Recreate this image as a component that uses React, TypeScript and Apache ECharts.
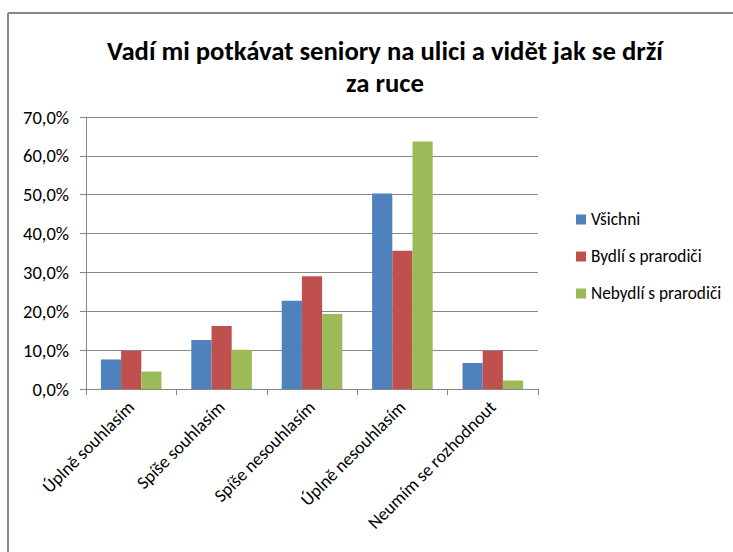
import React, { useEffect, useRef } from "react";
import * as echarts from "echarts";

const categories = ["Úplně souhlasím", "Spíše souhlasím", "Spíše nesouhlasím", "Úplně nesouhlasím", "Neumím se rozhodnout"];
const seriesNames = ["Všichni", "Bydlí s prarodiči", "Nebydlí s prarodiči"];
const vsichni = [7.6, 12.6, 22.7, 50.3, 6.7];
const bydli = [9.8, 16.2, 29.0, 35.6, 9.8];
const nebydli = [4.5, 10.1, 19.3, 63.7, 2.2];
const colors = ["#4F81BD", "#C0504D", "#9BBB59"];
const titleText = "Vadí mi potkávat seniory na ulici a vidět jak se drží\nza ruce";

export default function App() {
  const ref = useRef<HTMLDivElement>(null);
  useEffect(() => {
    const chart = echarts.init(ref.current!, null, { renderer: "svg" });
    const font = "Carlito, 'Open Sans', 'Noto Sans', sans-serif";
    const data = [vsichni, bydli, nebydli];
    chart.setOption({
      animation: false,
      backgroundColor: "#fff",
      title: {
        text: titleText,
        left: 380,
        textAlign: "center",
        top: 30,
        textStyle: { fontFamily: font, fontSize: 26.7, fontWeight: "bold", color: "#000", lineHeight: 32 },
      },
      graphic: [
        { type: "line", shape: { x1: 8, y1: 13, x2: 740, y2: 13 }, style: { stroke: "#888", lineWidth: 2 }, silent: true },
        { type: "line", shape: { x1: 8, y1: 13, x2: 8, y2: 560 }, style: { stroke: "#888", lineWidth: 2 }, silent: true },
      ],
      legend: {
        orient: "vertical",
        left: 571,
        top: 206,
        itemGap: 20,
        itemWidth: 10,
        itemHeight: 10,
        icon: "rect",
        textStyle: { fontFamily: font, fontSize: 17.3, color: "#000" },
        data: seriesNames,
      },
      grid: { left: 86, right: 195, top: 117, bottom: 163, containLabel: false },
      xAxis: {
        type: "category",
        data: categories,
        axisLine: { lineStyle: { color: "#868686" } },
        axisTick: { show: true, alignWithLabel: false, length: 6, lineStyle: { color: "#868686" } },
        axisLabel: { rotate: 45, interval: 0, fontFamily: font, fontSize: 18, color: "#000", margin: 15 },
      },
      yAxis: {
        type: "value",
        min: 0,
        max: 70,
        interval: 10,
        axisLine: { show: true, lineStyle: { color: "#868686" } },
        axisTick: { show: true, length: 6, lineStyle: { color: "#868686" } },
        splitLine: { lineStyle: { color: "#888" } },
        axisLabel: {
          fontFamily: font,
          fontSize: 18.5,
          color: "#000",
          margin: 17,
          formatter: (v: number) => v.toFixed(1).replace(".", ",") + "%",
        },
      },
      series: seriesNames.map((name, i) => ({
        name,
        type: "bar",
        data: data[i],
        barGap: "0%",
        barCategoryGap: "33%",
        itemStyle: { color: colors[i] },
      })),
    });
    return () => chart.dispose();
  }, []);
  return <div ref={ref} style={{ position: "fixed", left: 0, top: 0, width: 733, height: 552 }} />;
}
